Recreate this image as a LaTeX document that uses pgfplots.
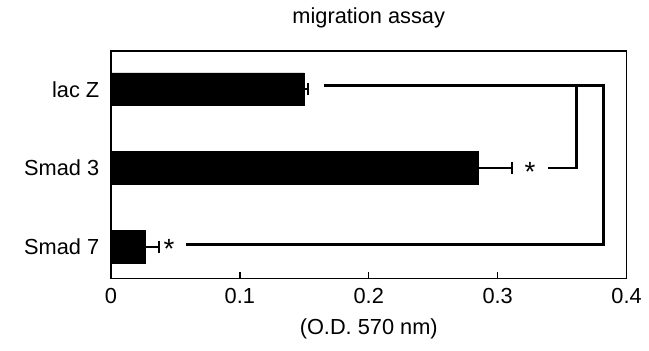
\documentclass[border=0pt]{standalone}
\usepackage{pgfplots}
\pgfplotsset{compat=1.18}
\usepackage{fontspec}
\setmainfont{Liberation Sans}
\begin{document}
\fontsize{11pt}{13pt}\selectfont
\begin{tikzpicture}
\begin{axis}[
  scale only axis,
  width=260.5pt, height=115pt,
  xmin=0, xmax=0.4, ymin=-0.40, ymax=2.49,
  xtick={0,0.1,0.2,0.3,0.4},
  xticklabels={0,0.1,0.2,0.3,0.4},
  ytick={0,1,2},
  yticklabels={Smad 7,Smad 3,lac Z},
  major tick length=3pt,
  tick align=inside,
  ytick style={draw=none},
  xtick pos=bottom,
  axis line style={line width=0.8pt},
  tick style={line width=0.7pt, black},
  /pgf/number format/assume math mode=true,
  ticklabel style={font=\fontsize{11pt}{13pt}\selectfont},
  yticklabel style={xshift=-2pt},
  xticklabel style={yshift=-1pt},
  title={migration assay},
  title style={at={(0.5,1)}, anchor=base, yshift=8pt, font=\fontsize{11pt}{13pt}\selectfont},
  xlabel={(O.D. 570 nm)},
  xlabel style={font=\fontsize{11pt}{13pt}\selectfont, yshift=0pt},
  clip=false,
]
\addplot[xbar, bar width=0.415, fill=black, draw=black,
  error bars/.cd, x dir=plus, x explicit,
  error bar style={line width=1pt, black},
  error mark options={rotate=90, mark size=3pt, line width=1pt}]
  coordinates {
  (0.150,2) +- (0.003,0)
  (0.285,1) +- (0.026,0)
  (0.027,0) +- (0.010,0)
  };
% brackets
\addplot[black, line width=1.2pt, mark=none] coordinates {(0.165,2.05) (0.382,2.05) (0.382,0.03) (0.058,0.03)};
\addplot[black, line width=1.2pt, mark=none] coordinates {(0.361,2.05) (0.361,1.0) (0.339,1.0)};
\node[font=\fontsize{14pt}{14pt}\selectfont] at (axis cs:0.325,0.95) {*};
\node[font=\fontsize{14pt}{14pt}\selectfont] at (axis cs:0.045,-0.02) {*};
\path (rel axis cs:-0.215,-0.3174) rectangle (rel axis cs:1.0307,1.2043);
\end{axis}
\end{tikzpicture}
\end{document}
